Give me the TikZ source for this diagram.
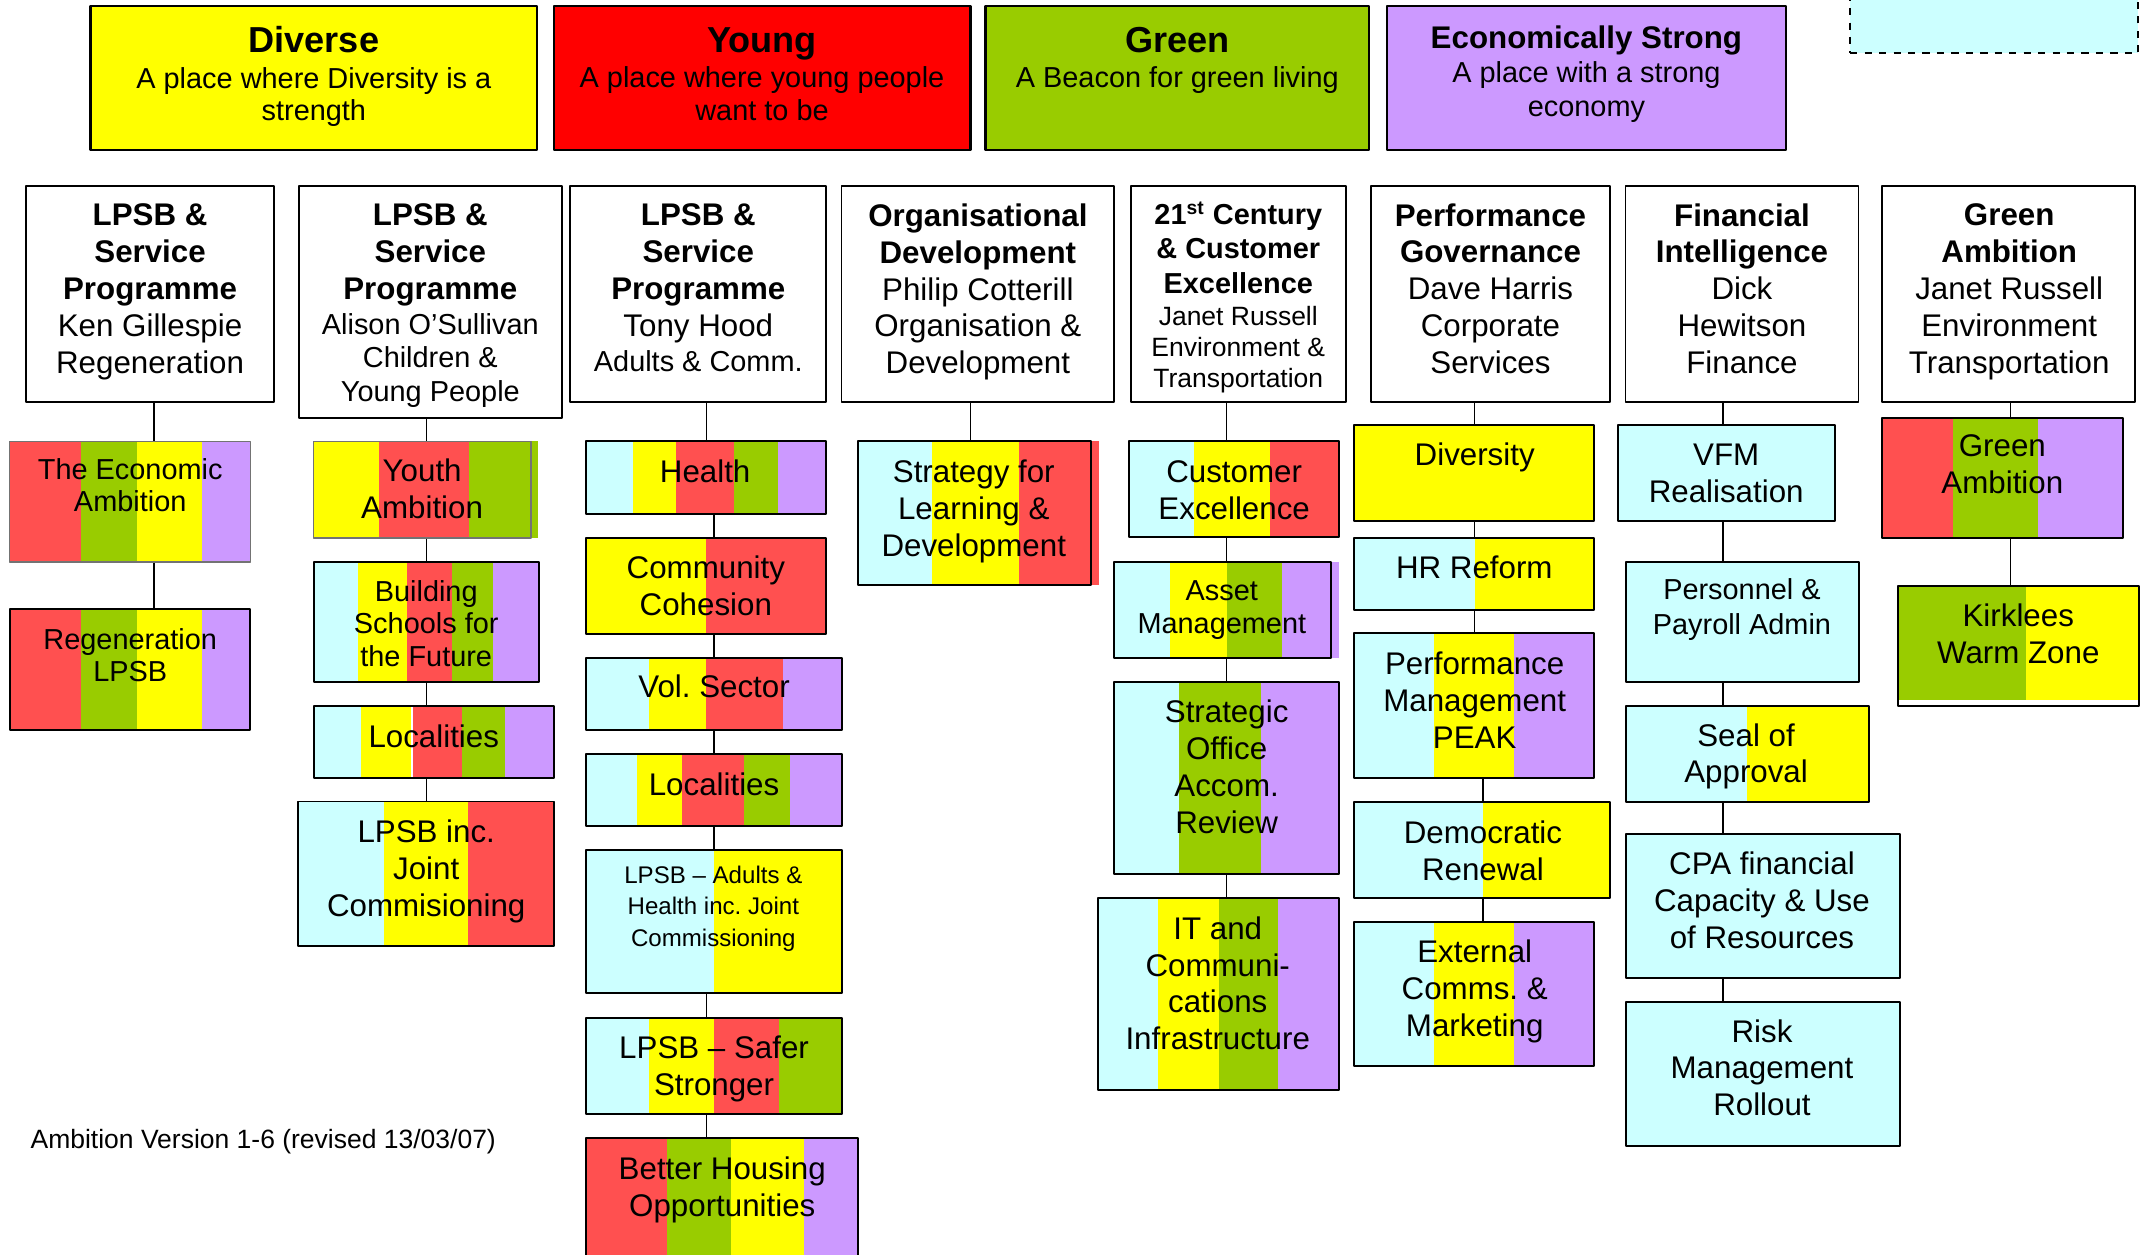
\documentclass[tikz,border=0pt]{standalone}
\usepackage{fontspec}
\setmainfont{Liberation Sans}
\usetikzlibrary{fit}

\definecolor{ambred}{HTML}{FF5050}
\definecolor{youngred}{HTML}{FF0000}
\definecolor{ambyellow}{HTML}{FFFF00}
\definecolor{ambgreen}{HTML}{99CC00}
\definecolor{ambpurple}{HTML}{CC99FF}
\definecolor{ambcyan}{HTML}{CCFFFF}

\newcommand{\stripes}[3]{%
  \foreach \xa/\xb/\fc in {#3} \fill[\fc] (\xa,#1) rectangle (\xb,#2);}

\tikzset{
  topbox/.style={draw, line width=1pt, inner sep=0pt},
  headbox/.style={draw, line width=0.8pt, inner sep=0pt},
  subbox/.style={draw, line width=0.8pt, inner sep=0pt},
  faintbox/.style={draw=black!55, line width=0.5pt, inner sep=0pt},
  link/.style={line width=0.6pt},
  lbl/.style={align=center, inner sep=0pt, font=\fontsize{13}{15.3}\selectfont},
  lblsm/.style={lbl, font=\fontsize{12}{13.6}\selectfont},
}

\begin{document}
\frenchspacing
\begin{tikzpicture}[x=0.02cm, y=-0.02cm, line join=round]
\clip (0,0) rectangle (1568,915);

\node[topbox, fill=ambyellow, fit={(66,4.5) (392,109.5)}] (diverse) {};
\node[lblsm] (diverse-t) at (229,56) {{\fontsize{15}{16}\selectfont\bfseries Diverse}\\[1.1pt]A place where Diversity is a\\strength};
\node[topbox, fill=youngred, fit={(404,4.5) (708,109.5)}] (young) {};
\node[lblsm] (young-t) at (556,54) {{\fontsize{15}{16}\selectfont\bfseries Young}\\[1.1pt]A place where young people\\want to be};
\node[topbox, fill=ambgreen, fit={(719,4.5) (999,109.5)}] (green) {};
\node[lblsm] (green-t) at (859,44) {{\fontsize{15}{16}\selectfont\bfseries Green}\\[1.1pt]A Beacon for green living};
\node[topbox, fill=ambpurple, fit={(1012,4.5) (1303,109.5)}] (strong) {};
\node[lbl, font=\fontsize{12}{14.2}\selectfont] (strong-t) at (1157.5,54) {{\fontsize{13}{14}\selectfont\bfseries Economically Strong}\\A place with a strong\\economy};
\node[draw, dashed, line width=0.8pt, fill=ambcyan, inner sep=0pt, fit={(1350,-10) (1560,39)}] (spare) {};

\node[headbox, fit={(19,136) (200,293)}] (hd1) {};
\node[lbl] (hd1-t) at (109.5,213) {\textbf{LPSB \&}\\\textbf{Service}\\\textbf{Programme}\\Ken Gillespie\\Regeneration};
\node[headbox, fit={(218,136) (410,305)}] (hd2) {};
\node[lbl] (hd2-t) at (314,223) {\textbf{LPSB \&}\\\textbf{Service}\\\textbf{Programme}\\[-0.6pt]{\fontsize{12}{14}\selectfont Alison O’Sullivan}\\[-1.5pt]{\fontsize{12}{14}\selectfont Children \&}\\[-1.2pt]{\fontsize{12}{14}\selectfont Young People}};
\node[headbox, fit={(416,136) (603,293)}] (hd3) {};
\node[lbl] (hd3-t) at (509.5,210) {\textbf{LPSB \&}\\\textbf{Service}\\\textbf{Programme}\\Tony Hood\\[-0.6pt]{\fontsize{12}{14}\selectfont Adults \& Comm.}};
\node[headbox, fit={(614,136) (813,293)}] (hd4) {};
\node[lbl] (hd4-t) at (713.5,213) {\textbf{Organisational}\\\textbf{Development}\\Philip Cotterill\\Organisation \&\\Development};
\node[headbox, fit={(825,136) (982,293)}] (hd5) {};
\node[lbl, font=\fontsize{12}{14.2}\selectfont] (hd5-t) at (903.5,217) {\textbf{21\textsuperscript{st} Century}\\\textbf{\& Customer}\\\textbf{Excellence}\\[-0.6pt]{\fontsize{11}{13}\selectfont Janet Russell}\\[-1.3pt]{\fontsize{11}{13}\selectfont Environment \&}\\[-1.5pt]{\fontsize{11}{13}\selectfont Transportation}};
\node[headbox, fit={(1000,136) (1175,293)}] (hd6) {};
\node[lbl] (hd6-t) at (1087.5,210.5) {\textbf{Performance}\\\textbf{Governance}\\Dave Harris\\Corporate\\Services};
\node[headbox, fit={(1186,136) (1356,293)}] (hd7) {};
\node[lbl] (hd7-t) at (1271,210.5) {\textbf{Financial}\\\textbf{Intelligence}\\Dick\\Hewitson\\Finance};
\node[headbox, fit={(1373,136) (1558,293)}] (hd8) {};
\node[lbl] (hd8-t) at (1466,213) {\textbf{Green}\\\textbf{Ambition}\\Janet Russell\\Environment\\Transportation};

\stripes{322}{410}{7/59.3/ambred, 59.3/100/ambgreen, 100/147.5/ambyellow, 147.5/182.5/ambpurple}
\node[faintbox, fit={(7,322) (182.5,410)}] (econ) {};
\node[lblsm] (econ-t) at (95,354) {The Economic\\Ambition};
\stripes{444.5}{532.5}{7/59.3/ambred, 59.3/100/ambgreen, 100/147.5/ambyellow, 147.5/182.5/ambpurple}
\node[subbox, fit={(7,444.5) (182.5,532.5)}] (regen) {};
\node[lblsm] (regen-t) at (95,478) {Regeneration\\LPSB};

\stripes{322}{392.5}{229/276.5/ambyellow, 276.5/342/ambred, 342/392.5/ambgreen}
\node[faintbox, fit={(229,322) (387.4,392.5)}] (youth) {};
\node[lbl] (youth-t) at (308,356.5) {Youth\\Ambition};
\stripes{410}{497.5}{229/261/ambcyan, 261/297/ambyellow, 297/330/ambred, 330/360/ambgreen, 360/393/ambpurple}
\node[subbox, fit={(229,410) (393,497.5)}] (bsf) {};
\node[lblsm] (bsf-t) at (311,455) {Building\\Schools for\\the Future};
\stripes{515}{567.6}{229/263.4/ambcyan, 263.4/300/ambyellow, 301.5/337/ambred, 337/368.6/ambgreen, 368.6/404/ambpurple}
\node[subbox, fit={(229,515) (404,567.6)}] (loc2) {};
\node[lbl] (loc2-t) at (316.5,537) {Localities};
\stripes{584.8}{690.3}{217.6/280/ambcyan, 280/341.3/ambyellow, 341.3/404/ambred}
\node[subbox, fit={(217.6,584.8) (404,690.3)}] (lpsbjc) {};
\node[lbl] (lpsbjc-t) at (311,636) {LPSB inc.\\Joint\\Commisioning};

\stripes{322}{374.8}{427.4/461.8/ambcyan, 461.8/493.3/ambyellow, 493.3/535.6/ambred, 535.6/567.7/ambgreen, 567.7/603/ambpurple}
\node[subbox, fit={(427.4,322) (603,374.8)}] (health) {};
\node[lbl] (health-t) at (514.5,344) {Health};
\stripes{392.5}{462.3}{427.4/515.3/ambyellow, 515.3/603/ambred}
\node[subbox, fit={(427.4,392.5) (603,462.3)}] (cohesion) {};
\node[lbl] (cohesion-t) at (515,427.5) {Community\\Cohesion};
\stripes{480}{532.7}{427.4/473.6/ambcyan, 473.6/515.3/ambyellow, 515.3/571.4/ambred, 571.4/614.6/ambpurple}
\node[subbox, fit={(427.4,480) (614.6,532.7)}] (vol) {};
\node[lbl] (vol-t) at (521,501) {Vol. Sector};
\stripes{550}{602.7}{427.4/465/ambcyan, 465/497.6/ambyellow, 497.6/542.9/ambred, 542.9/576.5/ambgreen, 576.5/614.6/ambpurple}
\node[subbox, fit={(427.4,550) (614.6,602.7)}] (loc3) {};
\node[lbl] (loc3-t) at (521,572) {Localities};
\stripes{620}{724.6}{427.4/521/ambcyan, 521/614.6/ambyellow}
\node[subbox, fit={(427.4,620) (614.6,724.6)}] (adults) {};
\node[lbl, font=\fontsize{10}{13}\selectfont] (adults-t) at (520.5,663) {LPSB -- Adults \&\\Health inc. Joint\\Commissioning};
\stripes{742.6}{812.8}{427.4/473.6/ambcyan, 473.6/521/ambyellow, 521/568.6/ambred, 568.6/614.6/ambgreen}
\node[subbox, fit={(427.4,742.6) (614.6,812.8)}] (safer) {};
\node[lbl] (safer-t) at (521,780) {LPSB -- Safer\\Stronger};
\stripes{830.4}{930}{427.4/486.7/ambred, 486.7/533.4/ambgreen, 533.4/586.6/ambyellow, 586.6/626/ambpurple}
\node[subbox, fit={(427.4,830.4) (626,930)}] (housing) {};
\node[lbl] (housing-t) at (527,868) {Better Housing\\Opportunities};

\stripes{322}{427}{626/680/ambcyan, 680/743.6/ambyellow, 743.6/801.6/ambred}
\node[subbox, fit={(626,322) (796,427)}] (strategy) {};
\node[lbl] (strategy-t) at (710.5,373.4) {Strategy for\\Learning \&\\Development};

\stripes{322}{392}{824/871.3/ambcyan, 871.3/926.7/ambyellow, 926.7/976.7/ambred}
\node[subbox, fit={(824,322) (976.7,392)}] (custexc) {};
\node[lbl] (custexc-t) at (900.5,357.5) {Customer\\Excellence};
\stripes{410}{479.8}{812.6/854/ambcyan, 854/895.2/ambyellow, 895.2/935.5/ambgreen, 935.5/976.7/ambpurple}
\node[subbox, fit={(812.6,410) (971.2,479.8)}] (asset) {};
\node[lblsm] (asset-t) at (891.5,445) {Asset\\Management};
\stripes{497.6}{637.7}{812.6/860.4/ambcyan, 860.4/920.4/ambgreen, 920.4/976.7/ambpurple}
\node[subbox, fit={(812.6,497.6) (976.7,637.7)}] (soar) {};
\node[lbl] (soar-t) at (895,559.5) {Strategic\\Office\\Accom.\\Review};
\stripes{655}{795}{801/844.9/ambcyan, 844.9/889.7/ambyellow, 889.7/932.4/ambgreen, 932.4/976.7/ambpurple}
\node[subbox, fit={(801,655) (976.7,795)}] (itc) {};
\node[lbl] (itc-t) at (888.5,717.5) {IT and\\Communi-\\cations\\Infrastructure};

\stripes{310.4}{380.4}{988/1163/ambyellow}
\node[subbox, fit={(988,310.4) (1163,380.4)}] (diversity) {};
\node[lbl] (diversity-t) at (1076,334) {Diversity};
\stripes{392.8}{445}{988/1076/ambcyan, 1076/1163/ambyellow}
\node[subbox, fit={(988,392.8) (1163,445)}] (hr) {};
\node[lbl] (hr-t) at (1075.7,414) {HR Reform};
\stripes{462}{567.7}{988/1046.5/ambcyan, 1046.5/1104.8/ambyellow, 1104.8/1163/ambpurple}
\node[subbox, fit={(988,462) (1163,567.7)}] (peak) {};
\node[lbl] (peak-t) at (1076,511) {Performance\\Management\\PEAK};
\stripes{585}{655}{988/1082/ambcyan, 1082/1175/ambyellow}
\node[subbox, fit={(988,585) (1175,655)}] (demo) {};
\node[lbl] (demo-t) at (1082,620.5) {Democratic\\Renewal};
\stripes{673}{777.8}{988/1046.5/ambcyan, 1046.5/1104.8/ambyellow, 1104.8/1163/ambpurple}
\node[subbox, fit={(988,673) (1163,777.8)}] (ext) {};
\node[lbl] (ext-t) at (1076,723.4) {External\\Comms. \&\\Marketing};

\stripes{310.4}{380}{1180.7/1338.6/ambcyan}
\node[subbox, fit={(1180.7,310.4) (1338.6,380)}] (vfm) {};
\node[lbl] (vfm-t) at (1259.5,345.5) {VFM\\Realisation};
\stripes{410}{497.8}{1186.4/1356.5/ambcyan}
\node[subbox, fit={(1186.4,410) (1356.5,497.8)}] (pers) {};
\node[lbl, font=\fontsize{12}{14.2}\selectfont] (pers-t) at (1271,444.7) {Personnel \&\\Payroll Admin};
\stripes{515.3}{585.2}{1186.4/1274.8/ambcyan, 1274.8/1364/ambyellow}
\node[subbox, fit={(1186.4,515.3) (1364,585.2)}] (seal) {};
\node[lbl] (seal-t) at (1274,551.9) {Seal of\\Approval};
\stripes{608.2}{713.3}{1186.4/1386.4/ambcyan}
\node[subbox, fit={(1186.4,608.2) (1386.4,713.3)}] (cpa) {};
\node[lbl] (cpa-t) at (1285.6,657) {CPA financial\\Capacity \& Use\\of Resources};
\stripes{731}{836.5}{1186.4/1386.4/ambcyan}
\node[subbox, fit={(1186.4,731) (1386.4,836.5)}] (risk) {};
\node[lbl] (risk-t) at (1285.6,779) {Risk\\Management\\Rollout};

\stripes{305.2}{392.4}{1373.4/1425/ambred, 1425/1487/ambgreen, 1487/1549/ambpurple}
\node[subbox, fit={(1373.4,305.2) (1549,392.4)}] (greenamb) {};
\node[lbl] (greenamb-t) at (1461,339) {Green\\Ambition};
\stripes{427.3}{511}{1385/1478/ambgreen, 1478/1561/ambyellow}
\node[subbox, fit={(1385,427.3) (1561,515.3)}] (kirk) {};
\node[lbl] (kirk-t) at (1472.6,462.5) {Kirklees\\Warm Zone};

\node[anchor=west, inner sep=0pt, font=\fontsize{11}{13}\selectfont] (version) at (22,833) {Ambition Version 1-6 (revised 13/03/07)};

\coordinate (c1) at (112.5,0);
\coordinate (c2) at (311,0);
\coordinate (c3) at (515.4,0);
\coordinate (c3b) at (521,0);
\coordinate (c4) at (708,0);
\coordinate (c5) at (895,0);
\coordinate (c6) at (1075.7,0);
\coordinate (c6b) at (1082,0);
\coordinate (c7) at (1257,0);
\coordinate (c8) at (1467,0);
\foreach \p/\q/\c in {hd1/econ/c1, econ/regen/c1,
    hd2/youth/c2, youth/bsf/c2, bsf/loc2/c2, loc2/lpsbjc/c2,
    hd3/health/c3, health/cohesion/c3b, cohesion/vol/c3b, vol/loc3/c3b, loc3/adults/c3b,
    adults/safer/c3, safer/housing/c3,
    hd4/strategy/c4,
    hd5/custexc/c5, custexc/asset/c5, asset/soar/c5, soar/itc/c5,
    hd6/diversity/c6, diversity/hr/c6, hr/peak/c6, peak/demo/c6b, demo/ext/c6b,
    hd7/vfm/c7, vfm/pers/c7, pers/seal/c7, seal/cpa/c7, cpa/risk/c7,
    hd8/greenamb/c8, greenamb/kirk/c8}
  \draw[link] (\p.south -| \c) -- (\q.north -| \c);
\end{tikzpicture}
\end{document}
